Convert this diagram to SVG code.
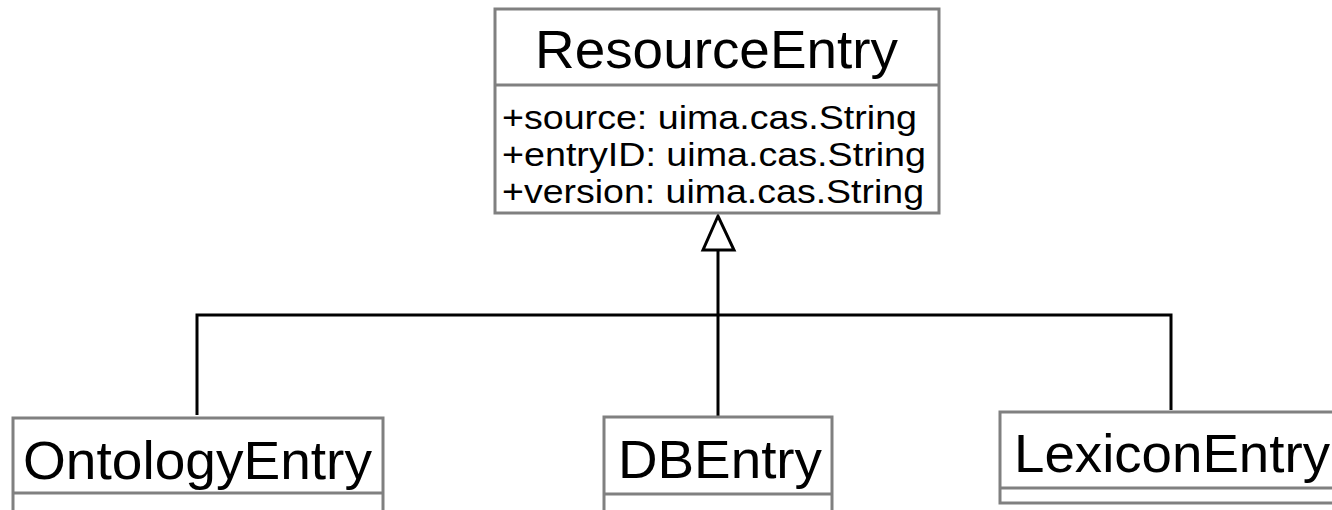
<svg xmlns="http://www.w3.org/2000/svg" width="1332" height="510" viewBox="0 0 1332 510">
<style>
.box{fill:#fff;stroke:#808080;stroke-width:3}
.name{font-family:"Liberation Sans",Arial,sans-serif;font-size:53px;fill:#000}
.attr{font-family:"Liberation Sans",Arial,sans-serif;font-size:33px;fill:#000}
.conn{fill:none;stroke:#000;stroke-width:3}
</style>
<rect width="1332" height="510" fill="#fff"/>
<g id="connectors">
<polyline class="conn" points="197,415 197,315 1171,315 1171,410"/>
<line class="conn" x1="718" y1="250" x2="718" y2="416"/>
<polygon points="718,216 703,250 734,250" fill="#fff" stroke="#000" stroke-width="3"/>
</g>
<g id="ResourceEntry">
<rect class="box" x="495" y="9" width="444" height="204"/>
<line class="box" x1="495" y1="85" x2="939" y2="85"/>
<text class="name" x="535" y="68" textLength="363" lengthAdjust="spacingAndGlyphs">ResourceEntry</text>
<text class="attr" x="502" y="129" textLength="415" lengthAdjust="spacingAndGlyphs">+source: uima.cas.String</text>
<text class="attr" x="502" y="166" textLength="424" lengthAdjust="spacingAndGlyphs">+entryID: uima.cas.String</text>
<text class="attr" x="502" y="203" textLength="422" lengthAdjust="spacingAndGlyphs">+version: uima.cas.String</text>
</g>
<g id="OntologyEntry">
<rect class="box" x="13" y="418" width="370" height="100"/>
<line class="box" x1="13" y1="493" x2="383" y2="493"/>
<text class="name" x="23" y="479" textLength="349" lengthAdjust="spacingAndGlyphs">OntologyEntry</text>
</g>
<g id="DBEntry">
<rect class="box" x="604" y="417" width="228" height="100"/>
<line class="box" x1="604" y1="494" x2="832" y2="494"/>
<text class="name" x="618" y="478" textLength="204" lengthAdjust="spacingAndGlyphs">DBEntry</text>
</g>
<g id="LexiconEntry">
<rect class="box" x="1000" y="412" width="340" height="91"/>
<line class="box" x1="1000" y1="488" x2="1340" y2="488"/>
<text class="name" x="1014" y="472" textLength="316" lengthAdjust="spacingAndGlyphs">LexiconEntry</text>
</g>
</svg>
